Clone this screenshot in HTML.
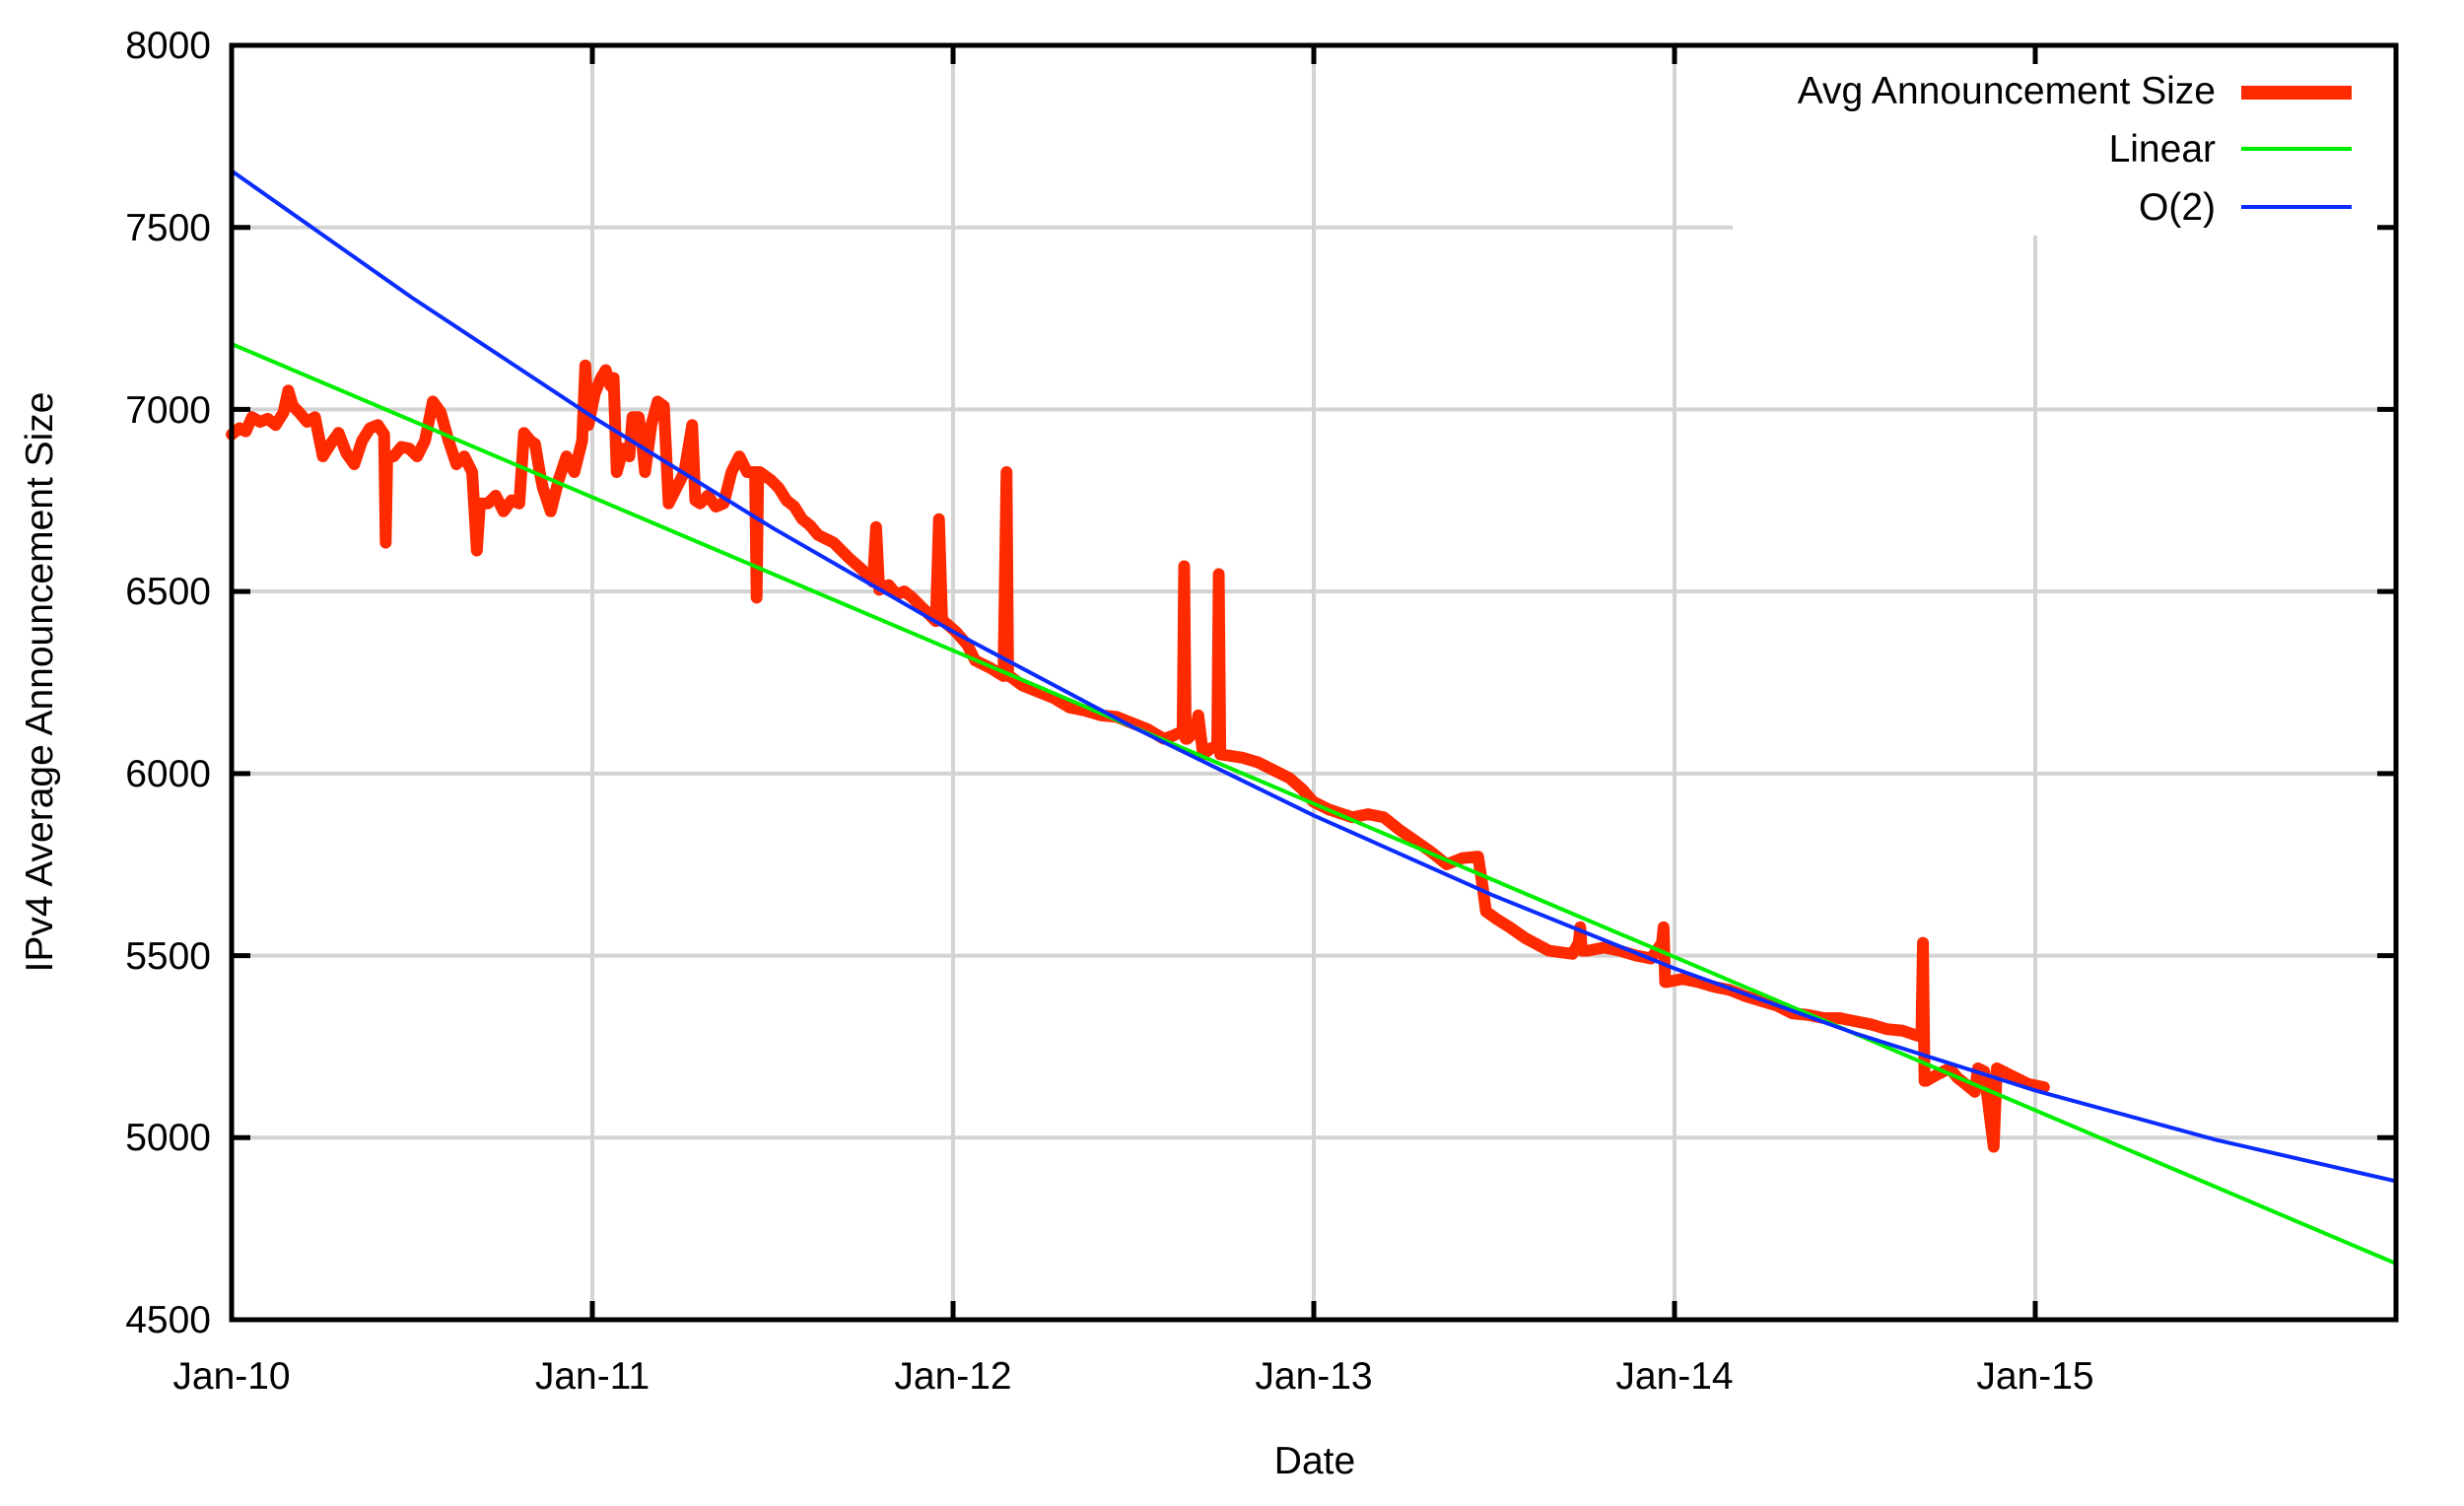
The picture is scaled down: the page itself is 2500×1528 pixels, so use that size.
<!DOCTYPE html>
<html><head><meta charset="utf-8"><style>
html,body{margin:0;padding:0;background:#fff;}
svg{display:block;}
text{font-family:"Liberation Sans",Arial,sans-serif;fill:#000;}
</style></head><body>
<svg width="2500" height="1528" viewBox="0 0 2500 1528" xmlns="http://www.w3.org/2000/svg">
<rect width="2500" height="1528" fill="#fff"/>
<g stroke="#d3d3d3" stroke-width="4">
<line x1="235" y1="230.7" x2="2431" y2="230.7"/>
<line x1="235" y1="415.4" x2="2431" y2="415.4"/>
<line x1="235" y1="600.1" x2="2431" y2="600.1"/>
<line x1="235" y1="784.9" x2="2431" y2="784.9"/>
<line x1="235" y1="969.6" x2="2431" y2="969.6"/>
<line x1="235" y1="1154.3" x2="2431" y2="1154.3"/>
<line x1="601" y1="46" x2="601" y2="1339"/>
<line x1="967" y1="46" x2="967" y2="1339"/>
<line x1="1333" y1="46" x2="1333" y2="1339"/>
<line x1="1699" y1="46" x2="1699" y2="1339"/>
<line x1="2065" y1="46" x2="2065" y2="1339"/>
</g>
<rect x="1758" y="48" width="671" height="191" fill="#fff"/>
<g transform="matrix(1.5948,0,0,1.592,0.6,1.4)">
<polyline fill="none" stroke="#ff2a00" stroke-width="7.5" stroke-linejoin="round" stroke-linecap="round" points="147,276 152,272 156,274 160,265 165,268 170,266 175,270 180,262 183,248 186,258 190,262 195,268 200,265 203,280 205,290 210,282 215,275 220,288 225,295 230,280 235,272 240,270 244,276 245,345 246,290 250,290 255,284 260,285 265,290 270,280 275,255 280,262 285,280 290,295 295,290 300,300 303,350 305,320 310,320 315,315 320,325 325,318 330,320 333,275 337,280 340,282 343,300 345,310 350,325 355,305 360,290 365,300 370,280 372,232 374,270 378,250 382,240 385,235 388,245 390,240 392,300 396,285 400,290 402,265 406,265 408,280 410,300 414,270 418,255 422,258 425,320 430,310 435,300 440,270 442,318 445,320 450,315 455,322 460,320 465,300 470,290 475,300 480,300 481,380 482,300 483,300 490,305 495,310 500,318 505,322 510,330 515,334 520,340 530,345 540,355 548,362 555,370 557,335 559,375 565,372 570,378 575,376 580,380 588,388 595,395 597,330 599,395 600,395 608,402 615,410 620,420 630,425 638,430 640,300 641,430 642,430 650,436 660,440 670,444 680,450 690,452 700,455 710,456 720,460 730,464 740,470 746,468 752,465 753,360 754,470 755,470 760,465 762,455 765,480 770,476 774,475 775,365 776,480 777,480 790,482 800,485 810,490 820,495 828,502 835,510 845,515 860,520 870,518 880,520 890,528 900,535 910,542 920,550 930,546 940,545 943,565 945,580 952,585 960,590 970,597 985,605 992,606 1000,607 1004,600 1005,590 1006,605 1010,605 1020,603 1030,605 1040,608 1050,610 1057,600 1058,590 1059,625 1060,625 1070,623 1080,625 1090,628 1100,630 1110,634 1120,637 1130,640 1140,645 1150,646 1160,648 1170,648 1180,650 1190,652 1200,655 1210,656 1222,660 1223,600 1224,688 1225,688 1232,684 1240,680 1245,686 1250,690 1256,695 1258,680 1262,682 1268,730 1270,680 1280,685 1290,690 1300,692"/>
</g>
<polyline fill="none" stroke="#00ee00" stroke-width="4" points="235,349 2431,1282"/>
<polyline fill="none" stroke="#0a2cff" stroke-width="4" points="235,173.4 418,302 601,422.8 784,535.7 967,640.9 1150,738 1333,827.4 1516,908.9 1699,982.6 1882,1048.4 2065,1106.4 2248,1156.4 2431,1198.5"/>
<rect x="235" y="46" width="2196" height="1293" fill="none" stroke="#000" stroke-width="5"/>
<g stroke="#000" stroke-width="5">
<line x1="235" y1="230.7" x2="254" y2="230.7"/><line x1="2412" y1="230.7" x2="2431" y2="230.7"/>
<line x1="235" y1="415.4" x2="254" y2="415.4"/><line x1="2412" y1="415.4" x2="2431" y2="415.4"/>
<line x1="235" y1="600.1" x2="254" y2="600.1"/><line x1="2412" y1="600.1" x2="2431" y2="600.1"/>
<line x1="235" y1="784.9" x2="254" y2="784.9"/><line x1="2412" y1="784.9" x2="2431" y2="784.9"/>
<line x1="235" y1="969.6" x2="254" y2="969.6"/><line x1="2412" y1="969.6" x2="2431" y2="969.6"/>
<line x1="235" y1="1154.3" x2="254" y2="1154.3"/><line x1="2412" y1="1154.3" x2="2431" y2="1154.3"/>
<line x1="601" y1="1339" x2="601" y2="1320"/><line x1="601" y1="46" x2="601" y2="65"/>
<line x1="967" y1="1339" x2="967" y2="1320"/><line x1="967" y1="46" x2="967" y2="65"/>
<line x1="1333" y1="1339" x2="1333" y2="1320"/><line x1="1333" y1="46" x2="1333" y2="65"/>
<line x1="1699" y1="1339" x2="1699" y2="1320"/><line x1="1699" y1="46" x2="1699" y2="65"/>
<line x1="2065" y1="1339" x2="2065" y2="1320"/><line x1="2065" y1="46" x2="2065" y2="65"/>
</g>
<g font-size="39" text-anchor="end">
<text x="214" y="59">8000</text>
<text x="214" y="244">7500</text>
<text x="214" y="429">7000</text>
<text x="214" y="613">6500</text>
<text x="214" y="798">6000</text>
<text x="214" y="983">5500</text>
<text x="214" y="1167">5000</text>
<text x="214" y="1352">4500</text>
</g>
<g font-size="39" text-anchor="middle">
<text x="235" y="1409">Jan-10</text>
<text x="601" y="1409">Jan-11</text>
<text x="967" y="1409">Jan-12</text>
<text x="1333" y="1409">Jan-13</text>
<text x="1699" y="1409">Jan-14</text>
<text x="2065" y="1409">Jan-15</text>
<text x="1334" y="1495">Date</text>
<text transform="translate(53,692) rotate(-90)">IPv4 Average Announcement Size</text>
</g>
<g font-size="39" text-anchor="end">
<text x="2248" y="105">Avg Announcement Size</text>
<text x="2248" y="164">Linear</text>
<text x="2248" y="223">O(2)</text>
</g>
<line x1="2274" y1="94" x2="2386" y2="94" stroke="#ff2a00" stroke-width="14"/>
<line x1="2274" y1="151" x2="2386" y2="151" stroke="#00ee00" stroke-width="4"/>
<line x1="2274" y1="210" x2="2386" y2="210" stroke="#0a2cff" stroke-width="4"/>
</svg>
</body></html>
